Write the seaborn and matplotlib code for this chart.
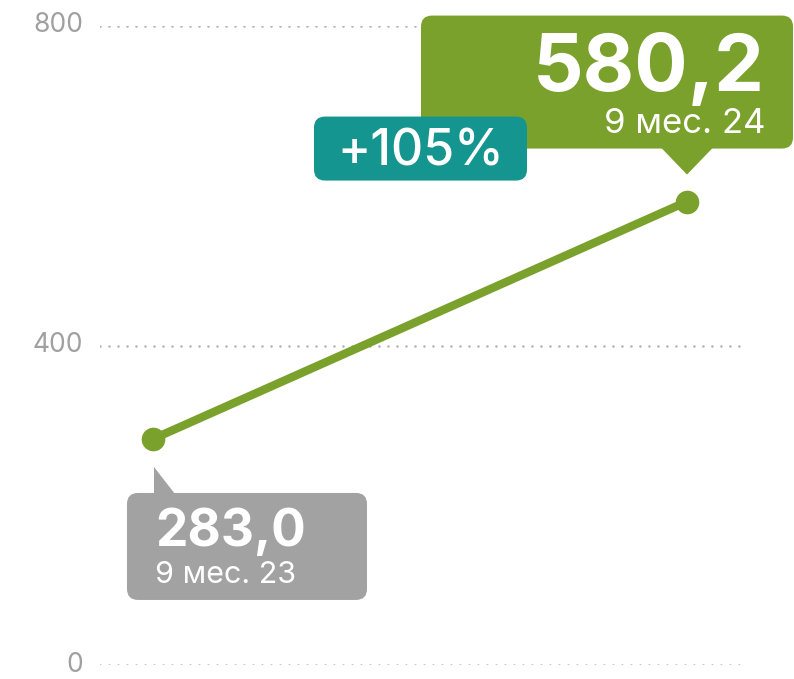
import pandas as pd
import seaborn as sns
import matplotlib.pyplot as plt
from matplotlib.patches import FancyBboxPatch, Polygon
from matplotlib.transforms import ScaledTranslation

# данные
periods = ['9 мес. 23', '9 мес. 24']
values = [283.0, 580.2]
value_labels = ['283,0', '580,2']
growth_label = '+105%'
y_ticks = [0, 400, 800]

GREEN = '#7aa12b'
TEAL = '#15958f'
GRAY = '#a2a2a2'
TICK = '#a0a0a0'

df = pd.DataFrame({'pos': range(len(periods)), 'value': values, 'period': periods})

sns.set_theme(style='white')
plt.rcParams['font.family'] = ['Inter', 'DejaVu Sans']

fig = plt.figure(figsize=(7.94, 6.79), dpi=100)
ax = fig.add_axes([100 / 794, 14 / 679, 645 / 794, 639 / 679])

sns.lineplot(data=df, x='pos', y='value', ax=ax, color=GREEN, linewidth=6,
             marker='o', markersize=17, markeredgewidth=0, solid_capstyle='round')

ax.set_xlim(-53 / 534, 1 + 58 / 534)
ax.set_ylim(0, 800)
ax.set_yticks(y_ticks)
ax.set_yticklabels([str(t) for t in y_ticks], color=TICK, fontsize=19)
ax.tick_params(axis='y', length=0, pad=12)
# чуть поднять подписи, чтобы «0» не обрезался снизу
for lab in ax.get_yticklabels():
    lab.set_transform(lab.get_transform() + ScaledTranslation(0, 0.035, fig.dpi_scale_trans))
ax.set_xticks([])
ax.set_xlabel('')
ax.set_ylabel('')
for s in ax.spines.values():
    s.set_visible(False)
for t in y_ticks:
    ax.axhline(t, color='#b3b3b3', linewidth=1.9, linestyle=(0, (0.01, 3.4)),
               dash_capstyle='round', zorder=0)

fig.canvas.draw()
p1 = ax.transData.transform((0, values[0]))
p2 = ax.transData.transform((1, values[1]))


def box(px, py, x0, x1, y0, y1, color, z=5):
    p = FancyBboxPatch((px + x0, py + y0), x1 - x0, y1 - y0,
                       boxstyle='round,pad=0,rounding_size=11',
                       transform=None, facecolor=color, edgecolor='none', zorder=z)
    fig.add_artist(p)


# подпись последней точки
box(p2[0], p2[1], -266, 106, 53, 186, GREEN)
fig.add_artist(Polygon([(p2[0] - 26, p2[1] + 54), (p2[0] + 26, p2[1] + 54), (p2[0], p2[1] + 27)],
                       closed=True, transform=None, facecolor=GREEN, edgecolor='none', zorder=5))
fig.text(p2[0] + 78, p2[1] + 111, value_labels[1], transform=None, ha='right', va='baseline',
         color='white', fontsize=57, fontweight='bold', zorder=6)
fig.text(p2[0] + 78, p2[1] + 69, periods[1], transform=None, ha='right', va='baseline',
         color='white', fontsize=25, zorder=6)

# подпись первой точки
box(p1[0], p1[1], -26, 214, -161, -54, GRAY)
fig.add_artist(Polygon([(p1[0] + 1, p1[1] - 28), (p1[0] + 1, p1[1] - 55), (p1[0] + 22, p1[1] - 55)],
                       closed=True, transform=None, facecolor=GRAY, edgecolor='none', zorder=5))
fig.text(p1[0] + 2, p1[1] - 107, value_labels[0], transform=None, ha='left', va='baseline',
         color='white', fontsize=37, fontweight='bold', zorder=6)
fig.text(p1[0] + 2, p1[1] - 144, periods[0], transform=None, ha='left', va='baseline',
         color='white', fontsize=22, zorder=6)

# прирост
box(p2[0], p2[1], -373, -160, 21, 85, TEAL, z=7)
fig.text(p2[0] - 266, p2[1] + 36, growth_label, transform=None, ha='center', va='baseline',
         color='white', fontsize=36, fontweight='medium', zorder=8)

fig.savefig('out.png', dpi=100)
